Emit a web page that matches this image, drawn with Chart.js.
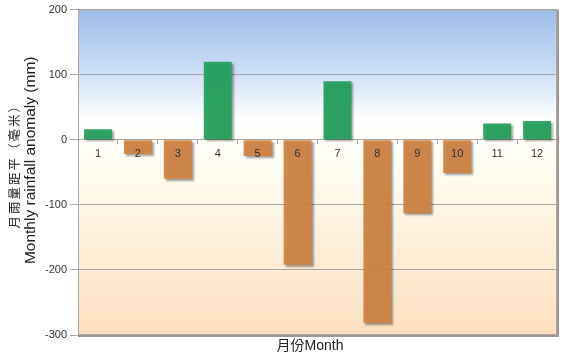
<!DOCTYPE html>
<html>
<head>
<meta charset="utf-8">
<script src="https://cdn.jsdelivr.net/npm/chart.js@4/dist/chart.umd.min.js"></script>
<style>
  html, body { margin: 0; padding: 0; background: #ffffff; }
  #wrap { width: 565px; height: 361px; }
</style>
</head>
<body>
<div id="wrap"><canvas id="rainChart"></canvas></div>
<script>
document.addEventListener("DOMContentLoaded", () => {
    // monthly rainfall anomaly (mm)
    const months = ["1", "2", "3", "4", "5", "6", "7", "8", "9", "10", "11", "12"];
    const anomaly = [16, -22, -60, 120, -25, -192, 90, -281, -113, -51, 25, 29];
    const yTicks = [-300, -200, -100, 0, 100, 200];

    const yTitleZh = "月雨量距平（毫米）";
    const yTitleEn = "Monthly rainfall anomaly (mm)";
    const xTitle = "月份Month";

    const green = "rgba(34, 160, 92, 0.93)";
    const orange = "rgba(208, 130, 66, 0.93)";

    // gradient background + frame of the plot area
    const plotBackground = {
        id: "plotBackground",
        beforeDraw(chart) {
            const { ctx, chartArea: a } = chart;
            const g = ctx.createLinearGradient(0, a.top, 0, a.bottom);
            g.addColorStop(0, "#9dbde6");
            g.addColorStop(0.2, "#cfe1f6");
            g.addColorStop(0.34, "#ffffff");
            g.addColorStop(0.5, "#fffcef");
            g.addColorStop(1, "#fddfbf");
            ctx.save();
            ctx.fillStyle = g;
            ctx.fillRect(a.left, a.top, a.right - a.left, a.bottom - a.top);
            ctx.restore();
        },
        afterDraw(chart) {
            const { ctx, chartArea: a } = chart;
            ctx.save();
            ctx.strokeStyle = "#a8a8a8";
            ctx.lineWidth = 1;
            ctx.strokeRect(a.left + 0.5, a.top + 0.5, a.right - a.left - 1, a.bottom - a.top - 1);
            // little shadow on right and bottom edges
            ctx.strokeStyle = "#a39690";
            ctx.lineWidth = 2;
            ctx.beginPath();
            ctx.moveTo(a.right + 1, a.top);
            ctx.lineTo(a.right + 1, a.bottom + 1);
            ctx.lineTo(a.left, a.bottom + 1);
            ctx.stroke();

            // axis titles
            ctx.fillStyle = "#222222";
            ctx.textAlign = "center";
            ctx.textBaseline = "middle";
            const midY = (a.top + a.bottom) / 2 - 8;

            // chinese line, spaced out one glyph at a time
            ctx.save();
            ctx.translate(14, midY);
            ctx.rotate(-Math.PI / 2);
            ctx.font = "12.5px 'Noto Sans CJK TC'";
            const chars = Array.from(yTitleZh);
            const step = 14.5;
            chars.forEach((c, i) => {
                ctx.fillText(c, -step * chars.length / 2 + step * (i + 0.5), 0);
            });
            ctx.restore();

            ctx.save();
            ctx.translate(31, midY - 4);
            ctx.rotate(-Math.PI / 2);
            ctx.font = "15.5px 'Liberation Sans'";
            ctx.fillText(yTitleEn, 0, 0);
            ctx.restore();

            ctx.font = "14px 'Liberation Sans', 'Noto Sans CJK TC'";
            ctx.fillText(xTitle, 310, 346);
            ctx.restore();
        }
    };

    // soft drop shadow under the bars
    const barShadow = {
        id: "barShadow",
        beforeDatasetsDraw(chart) {
            const ctx = chart.ctx;
            ctx.save();
            ctx.shadowColor = "rgba(0, 0, 0, 0.4)";
            ctx.shadowOffsetX = 2;
            ctx.shadowOffsetY = 2;
            ctx.shadowBlur = 2;
        },
        afterDatasetsDraw(chart) {
            chart.ctx.restore();
        }
    };

    const ctx = document.getElementById("rainChart").getContext("2d");
    new Chart(ctx, {
        type: "bar",
        data: {
            labels: months,
            datasets: [{
                label: "Monthly rainfall anomaly",
                data: anomaly,
                backgroundColor: anomaly.map(v => v >= 0 ? green : orange),
                borderWidth: 0,
                barPercentage: 0.7,
                categoryPercentage: 1.0
            }]
        },
        options: {
            responsive: true,
            maintainAspectRatio: false,
            animation: false,
            layout: {
                padding: { left: 42, right: 8, top: 4, bottom: 26 }
            },
            plugins: {
                legend: { display: false },
                title: { display: false },
                tooltip: { enabled: false }
            },
            scales: {
                x: {
                    position: { y: 0 },
                    grid: {
                        display: true,
                        drawOnChartArea: false,
                        drawTicks: true,
                        tickLength: 4,
                        offset: true,
                        color: "#a8a8a8"
                    },
                    border: { display: false },
                    ticks: {
                        z: 1,
                        color: "#333333",
                        padding: 4,
                        font: { family: "'Liberation Sans'", size: 11 }
                    }
                },
                y: {
                    min: -300,
                    max: 200,
                    afterBuildTicks(scale) {
                        scale.ticks = yTicks.map(v => ({ value: v }));
                    },
                    grid: {
                        color: "#a8a8a8",
                        tickLength: 8
                    },
                    border: { display: false },
                    ticks: {
                        color: "#333333",
                        padding: 3,
                        font: { family: "'Liberation Sans'", size: 11 }
                    }
                }
            }
        },
        plugins: [plotBackground, barShadow]
    });
});
</script>
</body>
</html>
